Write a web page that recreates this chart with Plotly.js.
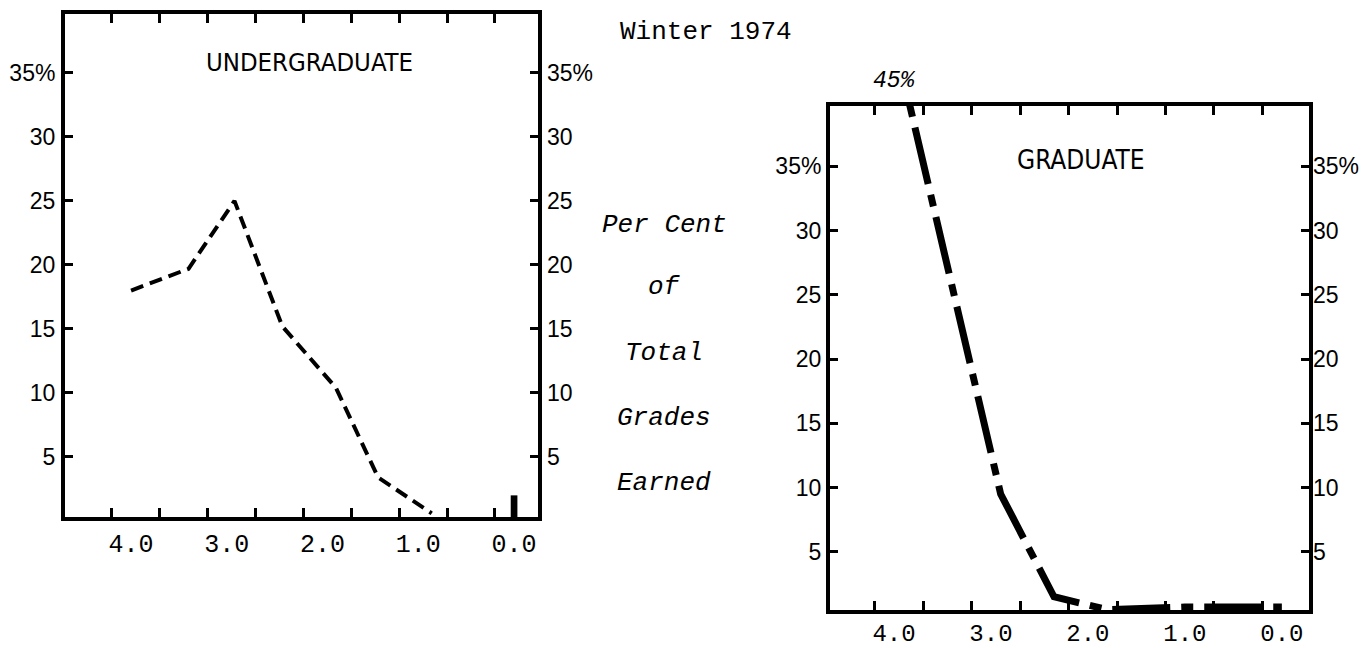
<!DOCTYPE html>
<html><head><meta charset="utf-8">
<script src="https://cdn.plot.ly/plotly-3.0.1.min.js"></script>
<style>html,body{margin:0;padding:0;background:#fff;}#chart{width:1366px;height:648px;}</style>
</head><body><div id="chart"></div>
<script>
// ---- data ----
const ugGrades  = [4.0, 3.4, 2.92, 2.42, 1.86, 1.42, 0.86];
const ugPercent = [18, 19.7, 25, 15.2, 10.4, 3.4, 0.6];
const ugFailGrade   = [0.0];
const ugFailPercent = [2];
const grGrades  = [4.0, 2.9, 2.35, 1.8, 1.0, 0.0];
const grPercent = [45, 9.5, 1.5, 0.5, 0.7, 0.7];
const gradeTickVals = [4, 3, 2, 1, 0];
const gradeTickText = ['4.0', '3.0', '2.0', '1.0', '0.0'];
const binEdges = [4.2, 3.7, 3.2, 2.7, 2.2, 1.7, 1.2, 0.7, 0.2];
const pctTickVals = [5, 10, 15, 20, 25, 30, 35];
const pctTickText = ['5', '10', '15', '20', '25', '30', '35%'];
const sideLabel = ['Per Cent', 'of', 'Total', 'Grades', 'Earned'];
const panelTitles = ['UNDERGRADUATE', 'GRADUATE'];
const headTitle = 'Winter 1974';

const MONO = 'Liberation Mono, Courier New, monospace';
const SANS = 'Liberation Sans, Arial, sans-serif';
const NARROW = 'Liberation Sans Narrow, DejaVu Sans Condensed, sans-serif';

// frame axis: box line + bin-edge ticks on bottom and top
function xFrame(domain, range, anchor) {
  return {
    domain: domain, range: range, anchor: anchor,
    showline: true, linewidth: 4, linecolor: '#000', mirror: 'ticks',
    tickmode: 'array', tickvals: binEdges, showticklabels: false,
    ticks: 'inside', ticklen: 9, tickwidth: 3, tickcolor: '#000',
    showgrid: false, zeroline: false, fixedrange: true
  };
}
// label axis: grade labels only
function xLabels(range, anchor, over, standoff, size) {
  return {
    range: range, anchor: anchor, overlaying: over, side: 'bottom',
    showline: false, ticks: '', tickmode: 'array', tickvals: gradeTickVals, ticktext: gradeTickText,
    showgrid: false, zeroline: false, ticklabelstandoff: standoff,
    tickfont: {family: MONO, size: size, color: '#000'}, fixedrange: true
  };
}
function yAxisMain(domain, range, anchor, standoff) {
  return {
    domain: domain, range: range, anchor: anchor,
    showline: true, linewidth: 4, linecolor: '#000', mirror: 'ticks',
    tickmode: 'array', tickvals: pctTickVals, ticktext: pctTickText,
    ticks: 'inside', ticklen: 8, tickwidth: 3, tickcolor: '#000',
    showgrid: false, zeroline: false, ticklabelstandoff: standoff,
    tickfont: {family: SANS, size: 23, color: '#000'},
    fixedrange: true
  };
}
function yAxisRight(range, anchor, over, standoff) {
  return {
    range: range, anchor: anchor, overlaying: over, side: 'right',
    showline: false, ticks: '', tickmode: 'array', tickvals: pctTickVals, ticktext: pctTickText,
    showgrid: false, zeroline: false, ticklabelstandoff: standoff,
    tickfont: {family: SANS, size: 23, color: '#000'},
    fixedrange: true
  };
}

const leftX = [65/1366, 538/1366], leftY = [1-517/648, 1-14/648];
const rightX = [830/1366, 1309/1366], rightY = [1-610/648, 1-106/648];
const leftXR = [4.69, -0.25], leftYR = [0.31, 39.6];
const rightXR = [4.66, -0.28], rightYR = [0.47, 39.7];

const traces = [
  {type: 'scatter', mode: 'lines', x: ugGrades, y: ugPercent, xaxis: 'x', yaxis: 'y3',
   line: {color: '#000', width: 4, dash: '13px,7px'}, hoverinfo: 'skip', showlegend: false},
  {type: 'bar', x: ugFailGrade, y: ugFailPercent, xaxis: 'x3', yaxis: 'y', width: 0.07,
   marker: {color: '#000', line: {width: 0}}, hoverinfo: 'skip', showlegend: false},
  {type: 'scatter', mode: 'lines', x: grGrades, y: grPercent, xaxis: 'x2', yaxis: 'y2',
   line: {color: '#000', width: 7, dash: '58px,11px,12px,11px'}, hoverinfo: 'skip', showlegend: false},
  {type: 'scatter', mode: 'lines', x: [], y: [], xaxis: 'x4', yaxis: 'y4', hoverinfo: 'skip', showlegend: false}
];

const sideY = [225, 287, 353, 418, 483];
const annotations = [
  {text: panelTitles[0], xref: 'paper', yref: 'paper', x: 309/1366, y: 1-62/648, showarrow: false,
   xanchor: 'center', yanchor: 'middle', font: {family: NARROW, size: 25.5, color: '#000'}},
  {text: panelTitles[1], xref: 'paper', yref: 'paper', x: 1081/1366, y: 1-160/648, showarrow: false,
   xanchor: 'center', yanchor: 'middle', font: {family: NARROW, size: 26, color: '#000'}},
  {text: headTitle, xref: 'paper', yref: 'paper', x: 706/1366, y: 1-32/648, showarrow: false,
   xanchor: 'center', yanchor: 'middle', font: {family: MONO, size: 26, color: '#000'}},
  {text: '<i>' + grPercent[0] + '%</i>', xref: 'x2', yref: 'paper', x: grGrades[0], y: 1-81/648, showarrow: false,
   xanchor: 'center', yanchor: 'middle', font: {family: MONO, size: 23, color: '#000'}}
];
sideLabel.forEach((t, i) => annotations.push({
  text: '<i>' + t + '</i>', xref: 'paper', yref: 'paper', x: 664/1366, y: 1-sideY[i]/648, showarrow: false,
  xanchor: 'center', yanchor: 'middle', font: {family: MONO, size: 26, color: '#000'}
}));

const layout = {
  width: 1366, height: 648, autosize: false,
  margin: {l: 0, r: 0, t: 0, b: 0, pad: 0},
  paper_bgcolor: '#fff', plot_bgcolor: 'rgba(0,0,0,0)',
  showlegend: false, hovermode: false,
  xaxis: xFrame(leftX, leftXR, 'y'),
  xaxis3: xLabels(leftXR, 'y', 'x', 9, 25),
  yaxis: yAxisMain(leftY, leftYR, 'x', 1),
  yaxis3: yAxisRight(leftYR, 'x', 'y', 8),
  xaxis2: xFrame(rightX, rightXR, 'y2'),
  xaxis4: xLabels(rightXR, 'y2', 'x2', 6, 24),
  yaxis2: yAxisMain(rightY, rightYR, 'x2', 0),
  yaxis4: yAxisRight(rightYR, 'x2', 'y2', 3),
  annotations: annotations
};

Plotly.newPlot('chart', traces, layout, {displayModeBar: false, staticPlot: true});
</script>
</body></html>
